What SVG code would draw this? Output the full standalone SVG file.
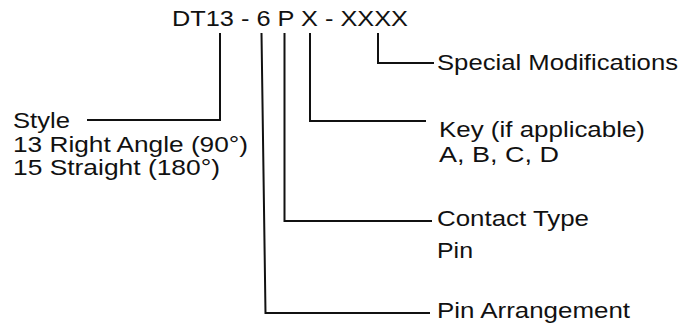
<svg xmlns="http://www.w3.org/2000/svg" width="681" height="328" viewBox="0 0 681 328">
<style>
text{font-family:"Liberation Sans",Arial,sans-serif;font-size:22px;fill:#111;}
.c{fill:none;stroke:#111;stroke-width:2;stroke-linejoin:miter;}
</style>
<rect width="681" height="328" fill="#fff"/>
<g id="part-number"><text x="172" y="26" textLength="236" lengthAdjust="spacingAndGlyphs">DT13 - 6 P X - XXXX</text></g>
<g id="connectors">
<path class="c" d="M220,33 V120 H87"/>
<path class="c" d="M261.5,33 L265.5,313 H430"/>
<path class="c" d="M284.5,33 V221 H432"/>
<path class="c" d="M310,33 V121 H426"/>
<path class="c" d="M378,33 V63 H434"/>
</g>
<g id="style"><text x="13" y="128" textLength="57" lengthAdjust="spacingAndGlyphs">Style</text>
<text x="13" y="152" textLength="235" lengthAdjust="spacingAndGlyphs">13 Right Angle (90°)</text>
<text x="13" y="175" textLength="207" lengthAdjust="spacingAndGlyphs">15 Straight (180°)</text></g>
<g id="special"><text x="437" y="70" textLength="241" lengthAdjust="spacingAndGlyphs">Special Modifications</text></g>
<g id="key"><text x="439" y="137" textLength="206" lengthAdjust="spacingAndGlyphs">Key (if applicable)</text>
<text x="439" y="162" textLength="120" lengthAdjust="spacingAndGlyphs">A, B, C, D</text></g>
<g id="contact"><text x="437" y="226" textLength="152" lengthAdjust="spacingAndGlyphs">Contact Type</text>
<text x="437" y="258" textLength="36" lengthAdjust="spacingAndGlyphs">Pin</text></g>
<g id="arrangement"><text x="437" y="318" textLength="193" lengthAdjust="spacingAndGlyphs">Pin Arrangement</text></g>
</svg>
